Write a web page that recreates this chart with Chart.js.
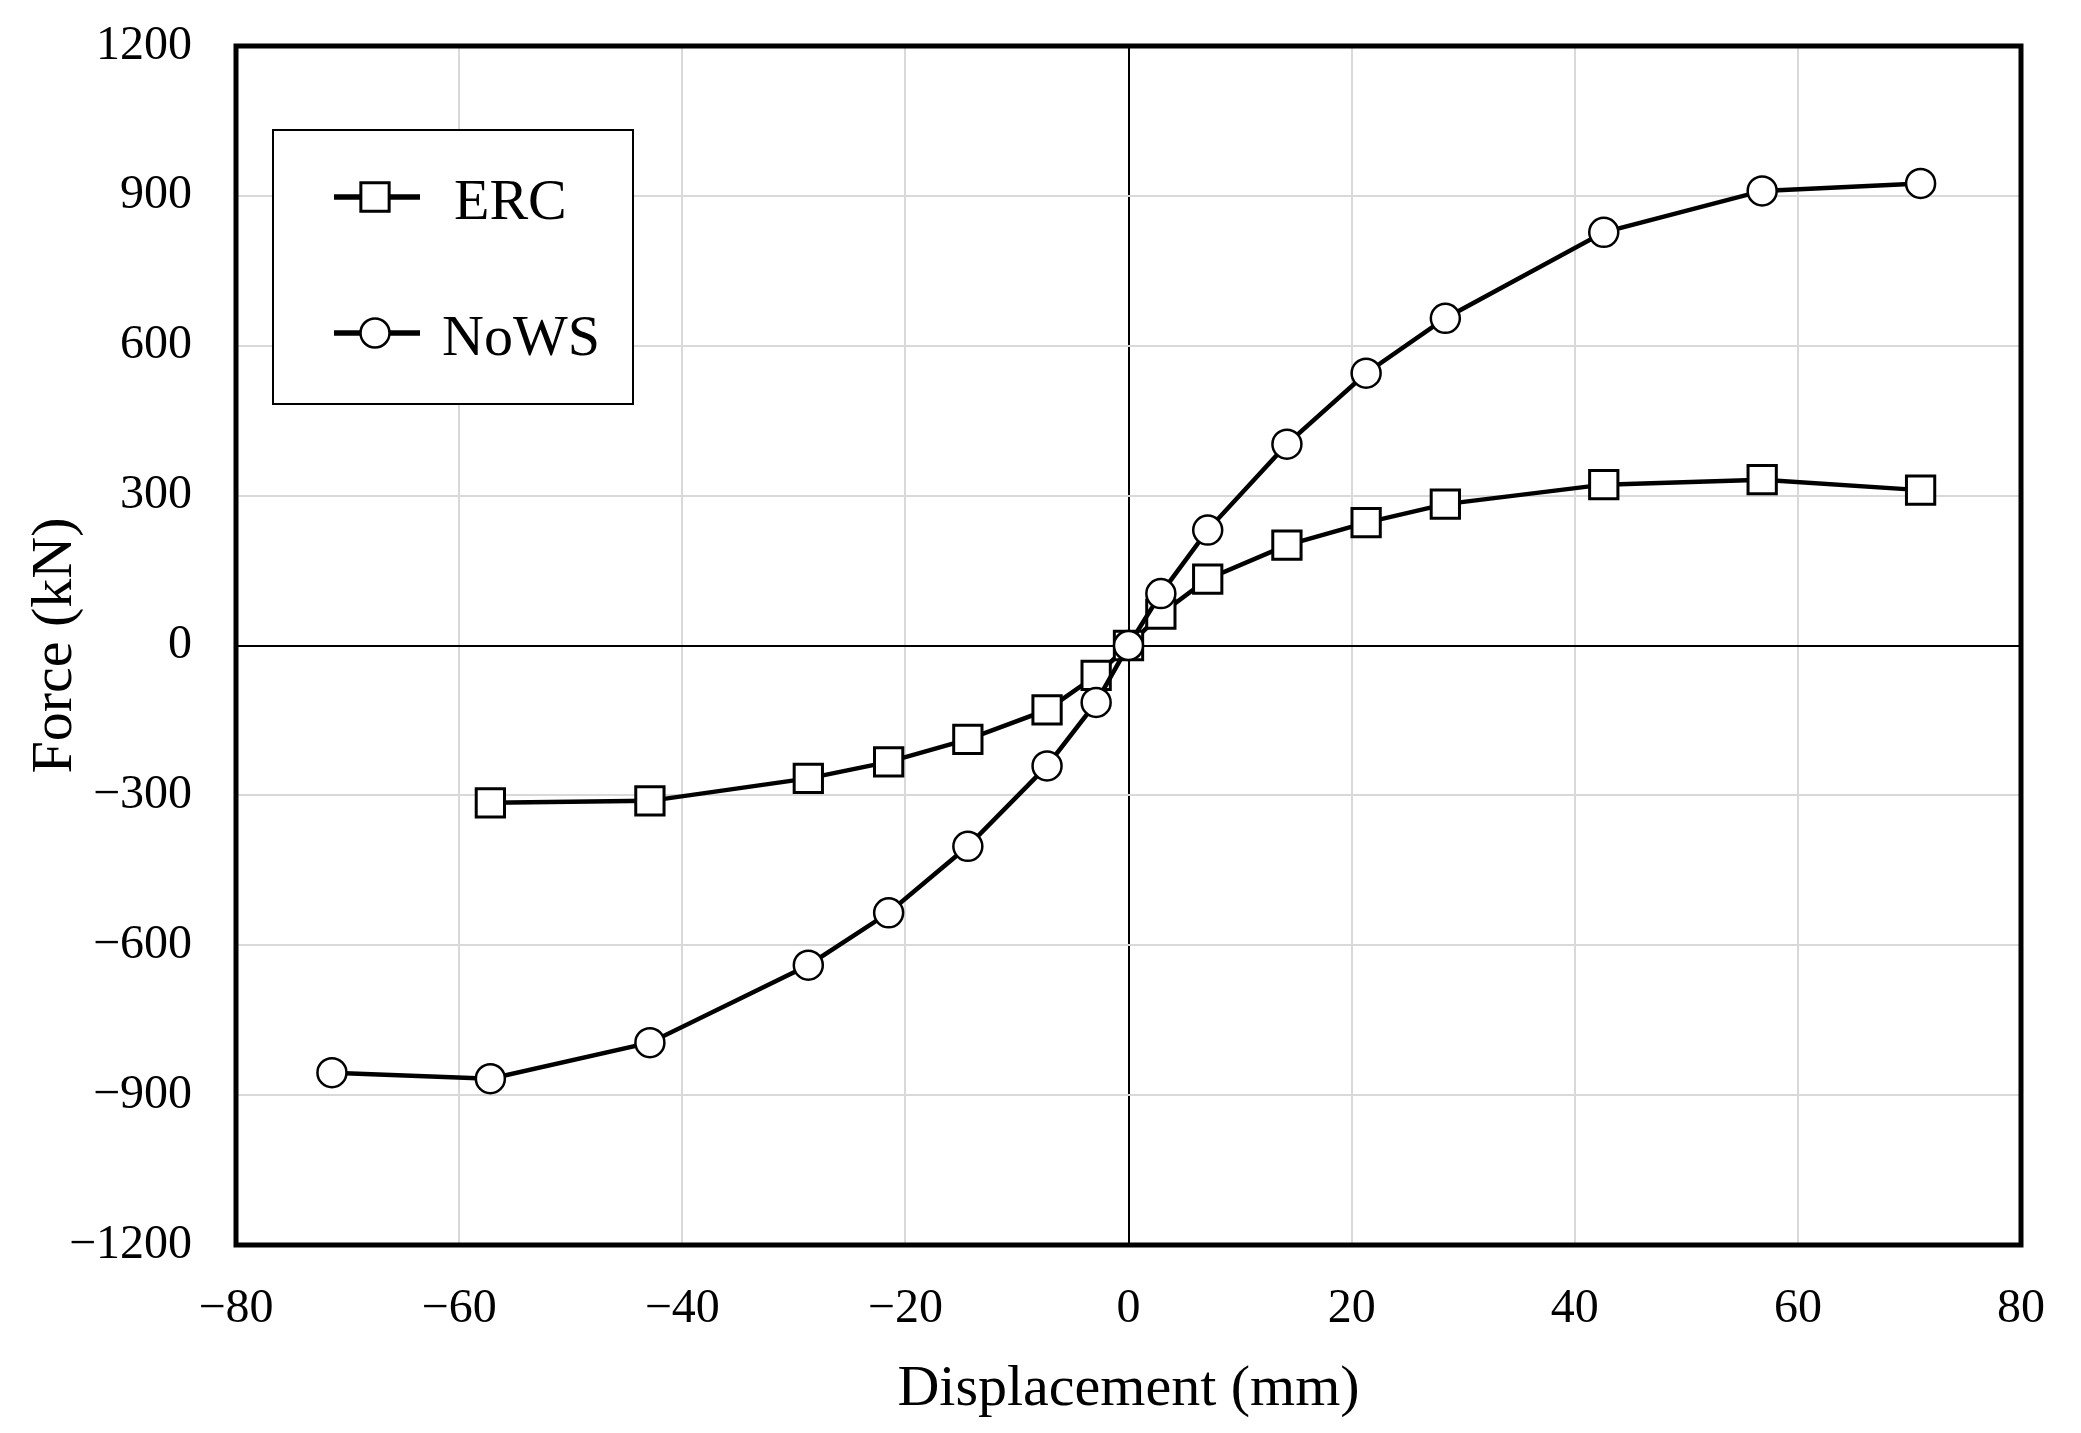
<!DOCTYPE html>
<html>
<head>
<meta charset="utf-8">
<title>Force-displacement</title>
<script src="https://cdn.jsdelivr.net/npm/chart.js@4.4.1/dist/chart.umd.min.js"></script>
<style>
  body { margin: 0; background: #fff; }
  #chart { display: block; }
</style>
</head>
<body>
<canvas id="chart" width="2081" height="1433"></canvas>
<script>
// values
const ercDisp = [-57.2, -42.9, -28.7, -21.5, -14.4, -7.3, -2.9, 0, 2.9, 7.1, 14.2, 21.3, 28.4, 42.6, 56.8, 71.0];
const ercForce = [-315, -311, -266, -233, -188, -129, -60, 0, 63, 133, 201, 246, 283, 322, 332, 311];

const nowsDisp = [-71.4, -57.2, -42.9, -28.7, -21.5, -14.4, -7.3, -2.9, 0, 2.9, 7.1, 14.2, 21.3, 28.4, 42.6, 56.8, 71.0];
const nowsForce = [-855, -867, -795, -640, -535, -402, -241, -114, 0, 104, 231, 403, 545, 655, 827, 910, 925];

const xTickLabels = ['\u221280', '\u221260', '\u221240', '\u221220', '0', '20', '40', '60', '80'];
const yTickLabels = ['\u22121200', '\u2212900', '\u2212600', '\u2212300', '0', '300', '600', '900', '1200'];

const seriesNames = ['ERC', 'NoWS'];

const serif = "'Liberation Serif', 'Times New Roman', serif";

const toPoints = (xs, ys) => xs.map((x, i) => ({ x: x, y: ys[i] }));

// frame round the plot area + boxed legend with line-marker-line samples
const framePlugin = {
  id: 'frame',
  afterDraw(chart) {
    const { ctx, chartArea } = chart;
    ctx.save();
    ctx.strokeStyle = '#000';
    ctx.lineWidth = 5;
    ctx.strokeRect(chartArea.left, chartArea.top, chartArea.right - chartArea.left, chartArea.bottom - chartArea.top);

    // legend box
    const bx = chartArea.left + 37;
    const by = chartArea.top + 84;
    ctx.lineWidth = 2;
    ctx.fillStyle = '#fff';
    ctx.fillRect(bx, by, 360, 274);
    ctx.strokeRect(bx, by, 360, 274);

    const rows = [67, 203];
    const textX = [181, 169];
    chart.data.datasets.forEach((ds) => {
      const i = seriesNames.indexOf(ds.label);
      const cy = by + rows[i];
      ctx.strokeStyle = '#000';
      ctx.lineWidth = ds.borderWidth + 1;
      ctx.beginPath();
      ctx.moveTo(bx + 61, cy);
      ctx.lineTo(bx + 147, cy);
      ctx.stroke();
      ctx.lineWidth = ds.pointBorderWidth;
      ctx.fillStyle = '#fff';
      ctx.beginPath();
      if (ds.pointStyle === 'rect') {
        const s = ds.pointRadius * Math.SQRT1_2;
        ctx.rect(bx + 102 - s, cy - s, 2 * s, 2 * s);
      } else {
        ctx.arc(bx + 102, cy, ds.pointRadius, 0, Math.PI * 2);
      }
      ctx.fill();
      ctx.stroke();
      ctx.fillStyle = '#000';
      ctx.font = '58px ' + serif;
      ctx.textBaseline = 'alphabetic';
      ctx.textAlign = 'left';
      ctx.fillText(ds.label, bx + textX[i], cy + 22);
    });
    ctx.restore();
  }
};

const gridColor = (c) => (c.tick && c.tick.value === 0 ? '#000' : '#d9d9d9');

new Chart(document.getElementById('chart'), {
  type: 'line',
  data: {
    datasets: [
      {
        label: seriesNames[0],
        data: toPoints(ercDisp, ercForce),
        borderColor: '#000',
        borderWidth: 4.5,
        pointStyle: 'rect',
        pointRadius: 20,
        pointBorderWidth: 3,
        pointBackgroundColor: '#fff',
        pointBorderColor: '#000',
        tension: 0,
        order: 1
      },
      {
        label: seriesNames[1],
        data: toPoints(nowsDisp, nowsForce),
        borderColor: '#000',
        borderWidth: 4.5,
        pointStyle: 'circle',
        pointRadius: 14.5,
        pointBorderWidth: 2.5,
        pointBackgroundColor: '#fff',
        pointBorderColor: '#000',
        tension: 0,
        order: 0
      }
    ]
  },
  options: {
    responsive: false,
    animation: false,
    devicePixelRatio: 1,
    layout: { padding: { left: 0, top: 46, right: 60, bottom: 0 } },
    plugins: {
      legend: { display: false },
      tooltip: { enabled: false }
    },
    scales: {
      x: {
        type: 'linear',
        min: -80,
        max: 80,
        afterFit: (s) => { s.height = 188; s.paddingLeft = 0; s.paddingRight = 0; },
        ticks: {
          stepSize: 20,
          padding: 36,
          color: '#000',
          font: { family: serif, size: 48 },
          callback: (v, i) => xTickLabels[i]
        },
        grid: { color: gridColor, lineWidth: 2, drawTicks: false },
        border: { display: false },
        title: {
          display: true,
          text: 'Displacement (mm)',
          color: '#000',
          font: { family: serif, size: 58 },
          padding: { top: 0, bottom: 8 }
        }
      },
      y: {
        type: 'linear',
        min: -1200,
        max: 1200,
        afterFit: (s) => { s.width = 236; s.paddingTop = 0; s.paddingBottom = 0; },
        ticks: {
          stepSize: 300,
          padding: 44,
          color: '#000',
          font: { family: serif, size: 48 },
          callback: (v, i) => yTickLabels[i]
        },
        grid: { color: gridColor, lineWidth: 2, drawTicks: false },
        border: { display: false },
        title: {
          display: true,
          text: 'Force (kN)',
          color: '#000',
          font: { family: serif, size: 58 },
          padding: { top: 21, bottom: 0 }
        }
      }
    }
  },
  plugins: [framePlugin]
});
</script>
</body>
</html>
